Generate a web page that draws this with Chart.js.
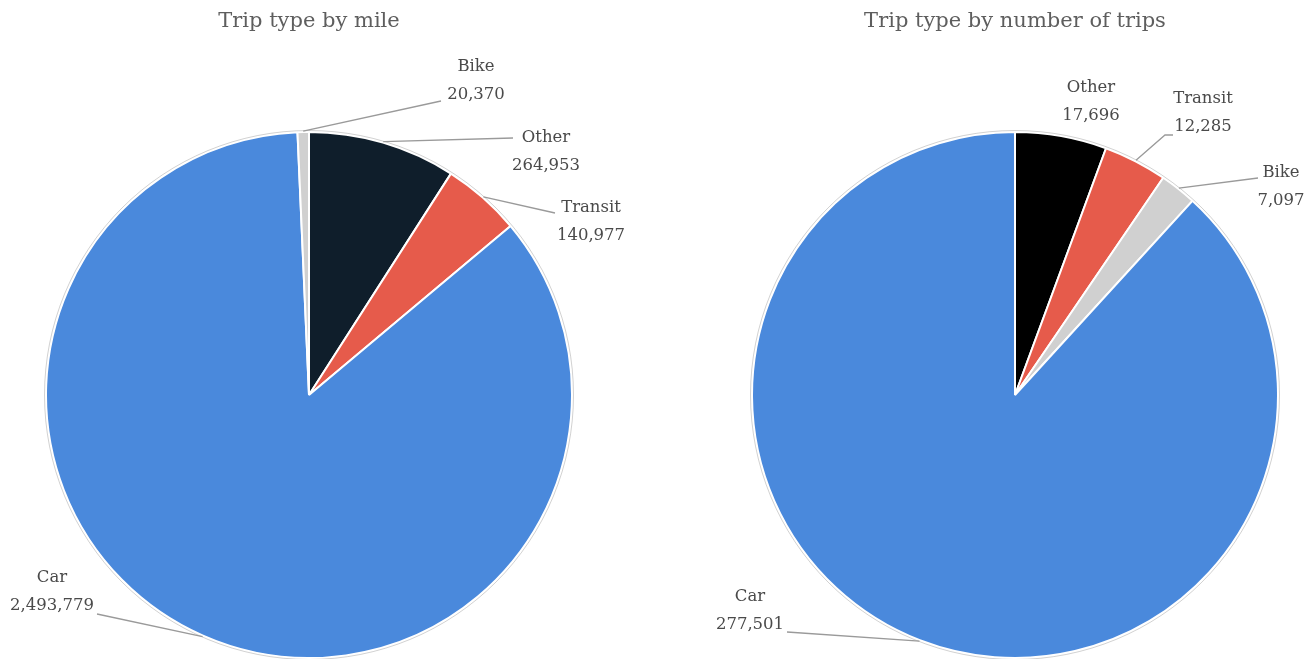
<!DOCTYPE html>
<html>
<head>
<meta charset="utf-8">
<title>Trip types</title>
<script src="https://cdn.jsdelivr.net/npm/chart.js@4/dist/chart.umd.min.js"></script>
<style>
  html, body { margin: 0; padding: 0; background: #fff; }
  .wrap { position: relative; width: 1313px; height: 659px; }
  .pane { position: absolute; top: 0; }
</style>
</head>
<body>
<div class="wrap">
  <div class="pane" style="left:0"><canvas id="mileChart" width="656" height="659"></canvas></div>
  <div class="pane" style="left:656px"><canvas id="tripChart" width="657" height="659"></canvas></div>
</div>
<script>
const mileLabels = ['Other', 'Transit', 'Car', 'Bike'];
const mileValues = [264953, 140977, 2493779, 20370];

const tripLabels = ['Other', 'Transit', 'Bike', 'Car'];
const tripValues = [17696, 12285, 7097, 277501];

const sliceColors = {
    Car: '#4a89dc',
    Transit: '#e65b4b',
    Bike: '#d0d0d0'
};

const FONT = "'DejaVu Serif', 'Liberation Serif', serif";

// draws name/value callouts with leader lines, plus the faint ring round the pie
const calloutPlugin = {
    id: 'callouts',
    afterDatasetsDraw(chart, args, opts) {
        const ctx = chart.ctx;
        const meta = chart.getDatasetMeta(0);
        const labels = chart.data.labels;
        const values = chart.data.datasets[0].data;
        ctx.save();

        const first = meta.data[0];
        ctx.beginPath();
        ctx.arc(first.x, first.y, first.outerRadius + 1.5, 0, Math.PI * 2);
        ctx.strokeStyle = 'rgba(0, 0, 0, 0.18)';
        ctx.lineWidth = 1;
        ctx.stroke();

        meta.data.forEach((arc, i) => {
            const spot = opts.spots[labels[i]];
            if (!spot) return;
            const { x, y, outerRadius, startAngle, endAngle } = arc.getProps(['x', 'y', 'outerRadius', 'startAngle', 'endAngle'], true);
            const mid = (startAngle + endAngle) / 2;

            if (spot.line) {
                ctx.beginPath();
                ctx.moveTo(x + Math.cos(mid) * (outerRadius + 1), y + Math.sin(mid) * (outerRadius + 1));
                if (spot.elbow) ctx.lineTo(x + spot.elbow[0], y + spot.elbow[1]);
                ctx.lineTo(x + spot.line[0], y + spot.line[1]);
                ctx.strokeStyle = '#9a9a9a';
                ctx.lineWidth = 1.3;
                ctx.stroke();
            }

            ctx.fillStyle = '#4a4a4a';
            ctx.font = '16.5px ' + FONT;
            ctx.textAlign = 'center';
            ctx.textBaseline = 'middle';
            ctx.fillText(labels[i], x + spot.text[0], y + spot.text[1]);
            ctx.fillText(values[i].toLocaleString('en-US'), x + spot.text[0], y + spot.text[1] + 28);
        });
        ctx.restore();
    }
};

function makePie(id, labels, values, otherColor, titleText, padLeft, padRight, spots) {
    new Chart(document.getElementById(id), {
        type: 'pie',
        data: {
            labels: labels,
            datasets: [{
                data: values,
                backgroundColor: labels.map(l => l === 'Other' ? otherColor : sliceColors[l]),
                borderColor: '#fff',
                borderWidth: 2
            }]
        },
        options: {
            responsive: false,
            animation: false,
            layout: { padding: { left: padLeft, right: padRight, top: 0, bottom: 0 } },
            plugins: {
                legend: { display: false },
                tooltip: { enabled: false },
                title: {
                    display: true,
                    text: titleText,
                    color: '#5e5e5e',
                    font: { family: FONT, size: 21, weight: 'normal' },
                    padding: { top: 9, bottom: 96.8 }
                },
                callouts: { spots: spots }
            }
        },
        plugins: [calloutPlugin]
    });
}

makePie('mileChart', mileLabels, mileValues, '#0f1e2b', 'Trip type by mile', 45, 83, {
    Other: { text: [237, -257], line: [204, -257] },
    Transit: { text: [282, -187], line: [246, -182] },
    Car: { text: [-257, 183], line: [-212, 219] },
    Bike: { text: [167, -328], line: [132, -294] }
});

makePie('tripChart', tripLabels, tripValues, '#000000', 'Trip type by number of trips', 95, 34, {
    Other: { text: [76, -307] },
    Transit: { text: [188, -296], elbow: [150, -260], line: [158, -260] },
    Bike: { text: [266, -222], line: [243, -217] },
    Car: { text: [-265, 202], line: [-228, 237] }
});
</script>
</body>
</html>
